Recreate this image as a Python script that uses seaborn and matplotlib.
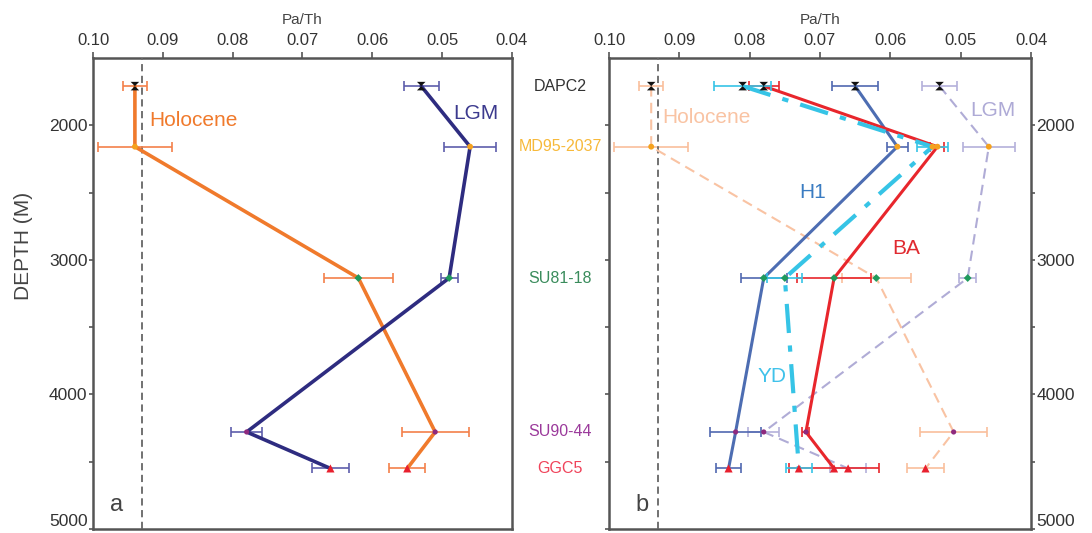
import numpy as np
import pandas as pd
import matplotlib
matplotlib.use("Agg")
import matplotlib.pyplot as plt
import matplotlib.transforms as mtransforms
from matplotlib.path import Path
import seaborn as sns

# ---------------- data ----------------
sites = ["DAPC2", "MD95-2037", "SU81-18", "SU90-44", "GGC5"]
depths = [1709, 2159, 3135, 4279, 4550]

holocene = [0.094, 0.094, 0.062, 0.051, 0.055]
holocene_err = [0.0017, 0.0053, 0.0049, 0.0048, 0.0026]
lgm = [0.053, 0.046, 0.049, 0.078, 0.066]
lgm_err = [0.0025, 0.0037, 0.0012, 0.0022, 0.0026]
h1 = [0.065, 0.059, 0.078, 0.082, 0.083]
h1_err = [0.0033, 0.0015, 0.0033, 0.0036, 0.0018]
yd = [0.081, 0.054, 0.075, np.nan, 0.073]
yd_err = [0.0041, 0.0022, 0.0025, np.nan, 0.0018]
ba = [0.078, 0.0533, 0.068, 0.072, 0.068]
ba_err = [0.0021, 0.0010, 0.0052, 0.0005, 0.0064]

holocene_line = 0.093
xticks = [0.10, 0.09, 0.08, 0.07, 0.06, 0.05, 0.04]
yticks_major = [2000, 3000, 4000, 5000]
yticks_minor = [2500, 3500, 4500]

# ---------------- style ----------------
sns.set_style("white")
plt.rcParams["font.family"] = ["Liberation Sans", "DejaVu Sans"]

site_colors = {"DAPC2": "#111111", "MD95-2037": "#f5a21e", "SU81-18": "#1f9a5c",
               "SU90-44": "#8e2a7e", "GGC5": "#e8202e"}
label_colors = {"DAPC2": "#333333", "MD95-2037": "#f7b93a", "SU81-18": "#3a8c5c",
                "SU90-44": "#9b3a9b", "GGC5": "#f0435a"}
hourglass = Path([(-1, 1), (1, 1), (-1, -1), (1, -1), (-1, 1)],
                 [Path.MOVETO, Path.LINETO, Path.LINETO, Path.LINETO, Path.CLOSEPOLY])
site_markers = {"DAPC2": hourglass, "MD95-2037": "o", "SU81-18": "D",
                "SU90-44": "o", "GGC5": "^"}
site_sizes = {"DAPC2": 38, "MD95-2037": 18, "SU81-18": 16, "SU90-44": 14, "GGC5": 34}

fig = plt.figure(figsize=(10.92, 5.33), dpi=100)
ax1 = fig.add_axes([93 / 1092, 4 / 533, 419 / 1092, 471 / 533])
ax2 = fig.add_axes([609 / 1092, 4 / 533, 422 / 1092, 471 / 533])


def series_frame(vals, errs):
    df = pd.DataFrame({"site": sites, "depth": depths, "val": vals, "err": errs})
    return df.dropna()


def draw_series(ax, vals, errs, color, ecolor, lw, ls, zorder, dashes=None):
    df = series_frame(vals, errs)
    ax.errorbar(df["val"], df["depth"], xerr=df["err"], fmt="none", ecolor=ecolor,
                elinewidth=1.2, capsize=3.5, capthick=1.2, zorder=zorder - 1)
    sns.lineplot(x="val", y="depth", data=df, sort=False, estimator=None, color=color,
                 linewidth=lw, ax=ax, zorder=zorder, legend=False)
    ln = ax.lines[-1]
    if dashes is not None:
        ln.set_dashes(dashes)
    elif ls != "-":
        ln.set_linestyle(ls)
    return df


def draw_markers(ax, vals):
    df = series_frame(vals, vals)
    for s, sub in df.groupby("site", sort=False):
        sns.scatterplot(x="val", y="depth", data=sub, color=site_colors[s],
                        marker=site_markers[s], s=site_sizes[s], edgecolor="none",
                        linewidth=0, ax=ax, zorder=10, legend=False)


# ---------------- panel a ----------------
draw_series(ax1, holocene, holocene_err, "#f07a2c", "#f4804a", 2.6, "-", 5)
draw_series(ax1, lgm, lgm_err, "#2e2c80", "#5d5dab", 2.6, "-", 5)
for v in (holocene, lgm):
    draw_markers(ax1, v)

# ---------------- panel b ----------------
draw_series(ax2, lgm, lgm_err, "#b0acd6", "#b4b0da", 1.5, "--", 4, dashes=(5, 3))
draw_series(ax2, holocene, holocene_err, "#f9c3a3", "#f9bf9c", 1.5, "--", 4, dashes=(5, 3))
draw_series(ax2, h1, h1_err, "#4d6db2", "#5068b0", 2.2, "-", 6)
draw_series(ax2, ba, ba_err, "#e8262c", "#e8262c", 2.2, "-", 6)
draw_series(ax2, yd, yd_err, "#36c4e6", "#36c4e6", 3.0, "-.", 7, dashes=(7, 3, 1.5, 3))
for v in (holocene, lgm, h1, ba, yd):
    draw_markers(ax2, v)

# ---------------- axes formatting ----------------
for ax in (ax1, ax2):
    ax.axvline(holocene_line, color="#666666", lw=1.3, ls=(0, (4, 2.5)), zorder=3)
    ax.set_xlim(0.10, 0.04)
    ax.set_ylim(5000, 1500)
    ax.xaxis.tick_top()
    ax.xaxis.set_label_position("top")
    ax.set_xticks(xticks)
    ax.set_xticklabels([f"{t:.2f}" for t in xticks])
    ax.set_xlabel("Pa/Th", fontsize=11, color="#444444", labelpad=7)
    ax.set_yticks(yticks_major)
    ax.set_yticks(yticks_minor, minor=True)
    ax.set_yticklabels([str(t) for t in yticks_major])
    ax.set_ylabel("")
    ax.tick_params(axis="x", which="both", top=True, bottom=False, direction="out",
                   length=4, width=1.2, labelsize=12, labelcolor="#333333", color="#555555", pad=3)
    ax.tick_params(axis="y", which="both", direction="out", length=3, width=1.2,
                   labelsize=12.5, labelcolor="#333333", color="#555555", pad=1)
    for sp in ax.spines.values():
        sp.set_visible(True)
        sp.set_color("#555555")
        sp.set_linewidth(1.8)
    ax.grid(False)

ax1.tick_params(axis="y", which="both", left=True, right=False, labelleft=True, labelright=False)
ax1.set_ylabel("DEPTH (M)", fontsize=15, color="#444444")
ax1.yaxis.set_label_coords(-0.143, 0.60)
ax2.tick_params(axis="y", which="both", left=True, right=True, labelleft=False, labelright=True)

# keep the 5000 labels inside the figure
for ax in (ax1, ax2):
    last = ax.yaxis.get_major_ticks()[-1]
    last.label1.set_verticalalignment("bottom")
    last.label2.set_verticalalignment("bottom")

# ---------------- annotations ----------------
ax1.text(0.0920, 1961, "Holocene", color="#f07a2c", fontsize=15, va="center", ha="left")
ax1.text(0.0484, 1909, "LGM", color="#3c3a8e", fontsize=15, va="center", ha="left")
ax1.text(0.0975, 4820, "a", color="#444444", fontsize=17, va="center", ha="left")

ax2.text(0.0925, 1939, "Holocene", color="#f9c3a3", fontsize=15, va="center", ha="left")
ax2.text(0.0487, 1887, "LGM", color="#aeaad6", fontsize=15, va="center", ha="left")
ax2.text(0.0729, 2500, "H1", color="#3a7cc2", fontsize=15, va="center", ha="left")
ax2.text(0.0597, 2912, "BA", color="#e02a30", fontsize=15, va="center", ha="left")
ax2.text(0.0748, 3870, "YD", color="#40c2ea", fontsize=15, va="center", ha="right")
ax2.text(0.0962, 4820, "b", color="#444444", fontsize=17, va="center", ha="left")

trans = mtransforms.blended_transform_factory(ax2.transAxes, ax2.transData)
for s, d in zip(sites, depths):
    ax2.text(-0.116, d, s, transform=trans, ha="center", va="center",
             fontsize=11.5, color=label_colors[s], clip_on=False)

fig.savefig("out.png", dpi=100)
